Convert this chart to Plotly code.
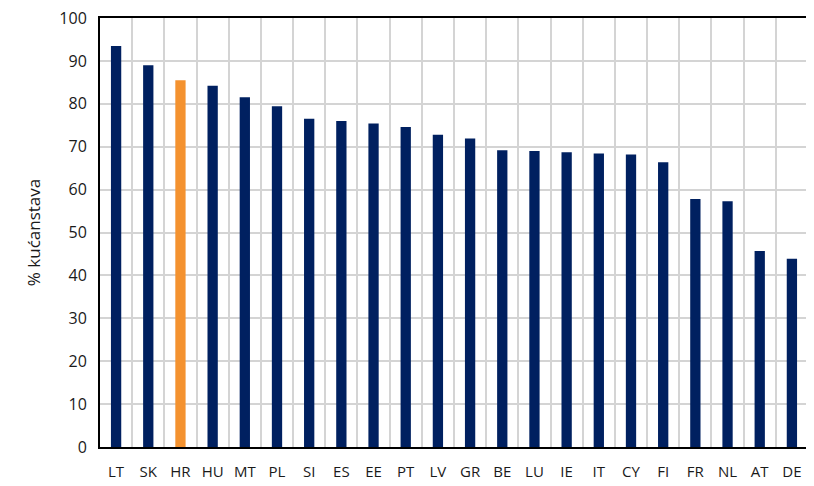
import plotly.graph_objects as go

countries = ["LT", "SK", "HR", "HU", "MT", "PL", "SI", "ES", "EE", "PT", "LV",
             "GR", "BE", "LU", "IE", "IT", "CY", "FI", "FR", "NL", "AT", "DE"]
values = [93.5, 89.0, 85.5, 84.2, 81.5, 79.4, 76.5, 76.0, 75.4, 74.6, 72.8,
          71.9, 69.2, 69.0, 68.7, 68.4, 68.2, 66.4, 57.8, 57.3, 45.7, 43.9]
highlight = "HR"
y_ticks = list(range(0, 101, 10))

NAVY = "#002060"
ORANGE = "#F4922F"
colors = [ORANGE if c == highlight else NAVY for c in countries]

fig = go.Figure(go.Bar(
    x=countries, y=values, marker=dict(color=colors, line=dict(width=0)),
    width=0.32,
))

font = "Open Sans, Calibri, Carlito, sans-serif"
fig.update_layout(
    template="none",
    width=806, height=478,
    margin=dict(l=92, r=6, t=10, b=39),
    paper_bgcolor="white", plot_bgcolor="white",
    font=dict(family=font, size=15, color="#1a1a1a"),
    showlegend=False,
)
fig.update_xaxes(
    type="category", tickson="boundaries", showgrid=True,
    gridcolor="#D4D4D4", gridwidth=2, tickangle=0,
    ticks="", ticklabelstandoff=10,
    showline=True, linecolor="black", linewidth=2, mirror=True,
    tickfont=dict(size=15),
)
fig.update_yaxes(
    range=[0, 100], tickvals=y_ticks, showgrid=True, ticklabeloverflow="allow",
    gridcolor="#D4D4D4", gridwidth=2, ticks="outside", ticklen=8, tickcolor="rgba(0,0,0,0)",
    showline=True, linecolor="black", linewidth=2, mirror=True,
    tickfont=dict(size=16),
    title=dict(text="% kućanstava", font=dict(size=17), standoff=14),
    zeroline=False,
)

fig.write_html("out.html")
